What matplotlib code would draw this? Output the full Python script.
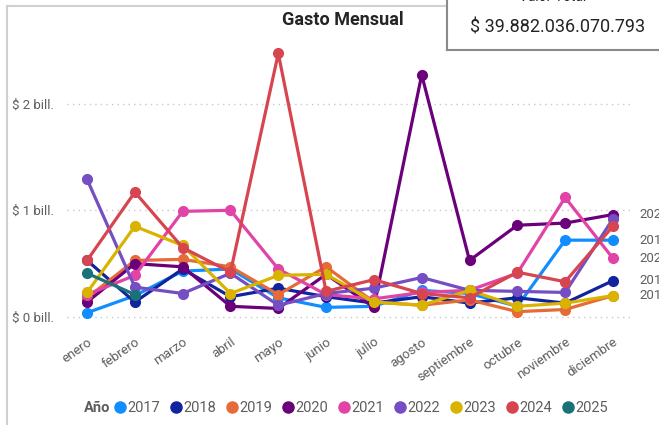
import matplotlib
matplotlib.use("Agg")
import matplotlib.pyplot as plt
from matplotlib.lines import Line2D

plt.rcParams["font.family"] = ["Roboto", "DejaVu Sans"]

# Gasto mensual por año, en billones de pesos
meses = ["enero", "febrero", "marzo", "abril", "mayo", "junio", "julio",
         "agosto", "septiembre", "octubre", "noviembre", "diciembre"]

g2017 = [0.04, 0.20, 0.43, 0.45, 0.18, 0.09, 0.10, 0.25, 0.22, 0.10, 0.72, 0.72]
g2018 = [0.53, 0.14, 0.45, 0.19, 0.27, 0.19, 0.13, 0.19, 0.13, 0.18, 0.13, 0.34]
g2019 = [0.18, 0.53, 0.54, 0.47, 0.21, 0.47, 0.14, 0.11, 0.16, 0.05, 0.07, 0.20]
g2020 = [0.14, 0.50, 0.47, 0.10, 0.08, 0.40, 0.09, 2.27, 0.53, 0.86, 0.88, 0.96]
g2021 = [0.21, 0.39, 0.99, 1.00, 0.45, 0.21, 0.17, 0.23, 0.25, 0.41, 1.12, 0.55]
g2022 = [1.29, 0.28, 0.22, 0.41, 0.11, 0.22, 0.27, 0.37, 0.25, 0.24, 0.23, 0.92]
g2023 = [0.23, 0.85, 0.67, 0.22, 0.39, 0.40, 0.14, 0.11, 0.25, 0.10, 0.13, 0.20]
g2024 = [0.53, 1.17, 0.65, 0.42, 2.47, 0.24, 0.35, 0.22, 0.18, 0.42, 0.33, 0.85]
g2025 = [0.41, 0.21]

anios = ["2017", "2018", "2019", "2020", "2021", "2022", "2023", "2024", "2025"]
series = [g2017, g2018, g2019, g2020, g2021, g2022, g2023, g2024, g2025]
colores = ["#118DFF", "#12239E", "#E66C37", "#6B007B", "#E044A7",
           "#744EC2", "#D9B300", "#D64550", "#197278"]

# etiquetas al final de la línea que se ven en el original (cortadas por el borde)
etiquetas_fin = ["2020", "2017", "2021", "2018", "2019"]

y_ticks = [0, 1, 2]
y_labels = ["$ 0 bill.", "$ 1 bill.", "$ 2 bill."]
total = "$ 39.882.036.070.793"

W, H = 659, 425
fig = plt.figure(figsize=(W / 100, H / 100), dpi=100)
ax = fig.add_axes([67 / W, 1 - 330 / H, (633 - 67) / W, (330 - 40) / H])

gris = "#605E5C"
x = list(range(len(meses)))
for anio, vals, col in zip(anios, series, colores):
    ax.plot(x[:len(vals)], vals, color=col, lw=2.3, marker="o", ms=7,
            solid_capstyle="round", label=anio)
    if anio in etiquetas_fin:
        ax.annotate(anio, (x[len(vals) - 1], vals[-1]), xytext=(19, 0),
                    textcoords="offset points", va="center", ha="left",
                    fontsize=9.5, color=gris, annotation_clip=False)

ax.set_xlim(-0.42, 11.42)
ax.set_ylim(-0.122, 2.596)
ax.set_yticks(y_ticks)
ax.set_yticklabels(y_labels)
ax.set_xticks(x)
ax.set_xticklabels(meses, rotation=35, ha="right", rotation_mode="anchor")
ax.tick_params(axis="both", length=0, labelsize=9.5, labelcolor=gris)
ax.tick_params(axis="y", pad=9)
ax.tick_params(axis="x", pad=4)
ax.grid(axis="y", linestyle=(0, (1, 3)), color="#C8C8C8", lw=1)
ax.set_axisbelow(True)
for s in ax.spines.values():
    s.set_visible(False)

fig.text(343 / W, 1 - 20 / H, "Gasto Mensual", ha="center", va="center",
         fontsize=13, fontweight="bold", color="#252423")

# borde del visual
fig.add_artist(Line2D([7 / W, 7 / W], [0, 1 - 6 / H], color="#D0D0D0", lw=1.5))
fig.add_artist(Line2D([7 / W, 447 / W], [1 - 6 / H, 1 - 6 / H], color="#D0D0D0", lw=1.5))

# tarjeta de valor total (el título queda casi fuera del recorte)
fig.add_artist(Line2D([447 / W, 447 / W], [1, 1 - 50 / H], color="#8A8A8A", lw=1.5))
fig.add_artist(Line2D([447 / W, 1], [1 - 50 / H, 1 - 50 / H], color="#8A8A8A", lw=1.5))
fig.text(553 / W, 1 - 1 / H, "Valor Total", ha="center", va="baseline",
         fontsize=10, color="#252423")
fig.text(558 / W, 1 - 28 / H, total, ha="center", va="center",
         fontsize=13, color="#252423")

# leyenda
handles = [Line2D([], [], marker="o", ls="none", color=c, ms=8) for c in colores]
fig.text(110 / W, 1 - 408 / H, "Año", ha="right", va="center",
         fontsize=10.5, fontweight="bold", color=gris)
fig.legend(handles, anios, loc="center left", bbox_to_anchor=(114 / W, 1 - 408 / H),
           ncol=9, frameon=False, fontsize=10.5, handlelength=0.8, handletextpad=0.1,
           columnspacing=0.7, borderaxespad=0, borderpad=0, labelcolor=gris)

fig.savefig("out.png", dpi=100)
